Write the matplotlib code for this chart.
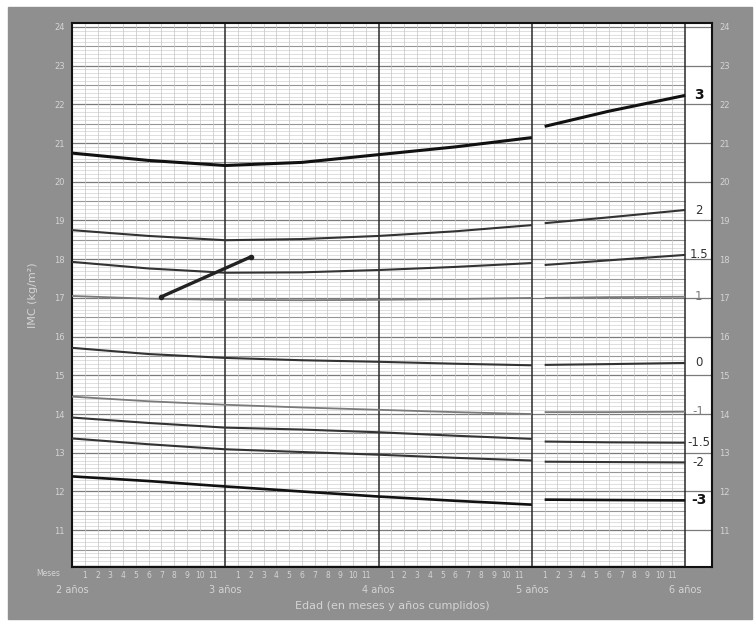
import numpy as np
import matplotlib.pyplot as plt
from matplotlib.patches import Rectangle

# age in months, first block (2-5 years) and second block (5-6 years)
ages_a = [24, 30, 36, 42, 48, 54, 60]
ages_b = [61, 66, 72]

z_labels = ["3", "2", "1.5", "1", "0", "-1", "-1.5", "-2", "-3"]

bmi_a = {
    "3": [20.74, 20.55, 20.42, 20.50, 20.70, 20.90, 21.14],
    "2": [18.75, 18.60, 18.49, 18.52, 18.60, 18.72, 18.88],
    "1.5": [17.93, 17.76, 17.65, 17.66, 17.72, 17.80, 17.90],
    "1": [17.05, 16.98, 16.95, 16.94, 16.95, 16.97, 17.00],
    "0": [15.71, 15.55, 15.45, 15.39, 15.35, 15.30, 15.26],
    "-1": [14.45, 14.33, 14.24, 14.17, 14.11, 14.05, 14.00],
    "-1.5": [13.91, 13.77, 13.65, 13.60, 13.53, 13.44, 13.36],
    "-2": [13.37, 13.22, 13.09, 13.02, 12.95, 12.87, 12.80],
    "-3": [12.39, 12.27, 12.13, 12.00, 11.87, 11.76, 11.66],
}
bmi_b = {
    "3": [21.43, 21.82, 22.23],
    "2": [18.93, 19.08, 19.27],
    "1.5": [17.85, 17.97, 18.11],
    "1": [17.00, 17.02, 17.03],
    "0": [15.27, 15.29, 15.32],
    "-1": [14.05, 14.05, 14.06],
    "-1.5": [13.29, 13.27, 13.26],
    "-2": [12.77, 12.76, 12.75],
    "-3": [11.79, 11.78, 11.77],
}

# the child's two measurements
child_age = [31, 38]
child_bmi = [17.03, 18.06]

year_labels = ["2 años", "3 años", "4 años", "5 años", "6 años"]
y_ticks = list(range(11, 25))

panel = "#8f8f8f"
light_text = "#d4d4d4"

fig = plt.figure(figsize=(7.55, 6.21), dpi=100)
fig.add_artist(Rectangle((8 / 755, 2 / 621), 744 / 755, 612 / 621,
                         transform=fig.transFigure, color=panel, zorder=-10))

ax = fig.add_axes([72 / 755, 1 - 567 / 621, 640 / 755, 544 / 621])
ax.set_xlim(24, 74.1)
ax.set_ylim(10.05, 24.1)
ax.set_facecolor("white")

# fine grid
for v in np.arange(10.1, 24.1, 0.1):
    v = round(v, 1)
    if abs(v - round(v)) < 1e-6:
        ax.hlines(v, 24, 74.1, color="#7a7a7a", lw=0.9, zorder=1)
    elif abs(v * 2 - round(v * 2)) < 1e-6:
        ax.hlines(v, 24, 72, color="#959595", lw=0.8, zorder=1)
    else:
        ax.hlines(v, 24, 72, color="#d2d2d2", lw=0.5, zorder=1)
for m in range(25, 73):
    if m % 12 == 0:
        ax.vlines(m, 10.05, 24.1, color="#2a2a2a", lw=1.1, zorder=2)
    else:
        ax.vlines(m, 10.05, 24.1, color="#c4c4c4", lw=0.5, zorder=1)

styles = {
    "3": ("#111111", 2.2), "2": ("#333333", 1.5), "1.5": ("#333333", 1.5),
    "1": ("#7a7a7a", 1.3), "0": ("#333333", 1.5), "-1": ("#7a7a7a", 1.3),
    "-1.5": ("#333333", 1.5), "-2": ("#333333", 1.5), "-3": ("#111111", 1.9),
}
for z in z_labels:
    c, lw = styles[z]
    ax.plot(ages_a, bmi_a[z], color=c, lw=lw, zorder=3, solid_capstyle="butt")
    ax.plot(ages_b, bmi_b[z], color=c, lw=lw, zorder=3, solid_capstyle="butt")
    bold = z in ("3", "-3")
    ax.text(73.05, bmi_b[z][-1], z, ha="center", va="center",
            fontsize=10 if bold else 8.5, fontweight="bold" if bold else "normal",
            color=c, zorder=4)

ax.plot(child_age, child_bmi, color="#222222", lw=2.4, zorder=5,
        solid_capstyle="round", marker="o", ms=3)

ax.set_yticks(y_ticks)
ax.tick_params(axis="y", length=0, labelsize=6, labelcolor=light_text,
               labelleft=True, labelright=True, pad=5)

ax.set_xticks([24, 36, 48, 60, 72])
ax.set_xticklabels(year_labels)
ax.set_xticks([m for m in range(25, 72) if m % 12], minor=True)
ax.set_xticklabels([str(m % 12) for m in range(25, 72) if m % 12], minor=True)
ax.tick_params(axis="x", which="major", length=0, labelsize=7,
               labelcolor=light_text, pad=13)
ax.tick_params(axis="x", which="minor", length=0, labelsize=5.5,
               labelcolor=light_text, pad=3)
fig.text(48 / 755, 1 - 574 / 621, "Meses", fontsize=5.5, color=light_text,
         ha="center", va="center")

ax.set_xlabel("Edad (en meses y años cumplidos)", fontsize=8,
              color=light_text, labelpad=4)
ax.set_ylabel("IMC (kg/m²)", fontsize=8, color=light_text, labelpad=12)

for s in ax.spines.values():
    s.set_color("#111111")
    s.set_linewidth(1.5)

fig.savefig("out.png", dpi=100)
